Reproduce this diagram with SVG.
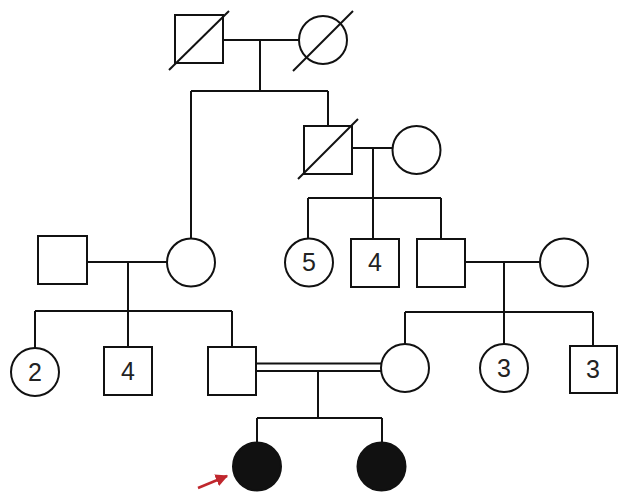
<svg xmlns="http://www.w3.org/2000/svg" width="629" height="502" viewBox="0 0 629 502">
<defs>
<style>
.s{fill:#fff;stroke:#111;stroke-width:2}
.a{fill:#111;stroke:#111;stroke-width:2}
.l{fill:none;stroke:#111;stroke-width:2}
.t{font-family:"Liberation Sans",Arial,sans-serif;font-size:25px;fill:#222;text-anchor:middle}
</style>
<marker id="ah" viewBox="0 0 10 10" refX="9" refY="5" markerWidth="5" markerHeight="5" orient="auto"><path d="M0,0L10,5L0,10z" fill="#c0272d"/></marker>
</defs>
<rect width="629" height="502" fill="#fff"/>
<g id="connectors" class="l">
<path d="M223,40H299M260,40V91M191,91H328M191,91V238M328,91V126"/>
<path d="M352,148H392M373,148V198M308,198H441M308,198V238M373,198V239M441,198V239"/>
<path d="M87,262H167M128,262V311M35,311H232M35,311V348M128,311V347M232,311V347"/>
<path d="M465,262H540M504,262V312M405,312H593M405,312V344M504,312V345M593,312V346"/>
<path d="M256,363.5H381M256,371H381M318,371V418M257,418H382M257,418V442M382,418V442"/>
<line x1="198" y1="488" x2="227" y2="476" stroke="#c0272d" stroke-width="2.5" marker-end="url(#ah)"/>
</g>
<g id="gf"><rect class="s" x="175" y="15" width="48" height="48"/><line class="l" x1="169" y1="70" x2="229" y2="11"/></g>
<g id="gm"><circle class="s" cx="323" cy="40" r="24"/><line class="l" x1="293" y1="71" x2="353" y2="11"/></g>
<g id="uncle"><rect class="s" x="304" y="126" width="48" height="48"/><line class="l" x1="298" y1="179" x2="358" y2="119"/></g>
<g id="auntwife"><circle class="s" cx="416.5" cy="150" r="24"/></g>
<g id="fatherfather"><rect class="s" x="38" y="236" width="49" height="48"/></g>
<g id="mothermother"><circle class="s" cx="191" cy="262.5" r="24"/></g>
<g id="c5"><circle class="s" cx="309" cy="262.5" r="24"/><text class="t" x="309" y="271">5</text></g>
<g id="s4a"><rect class="s" x="351" y="239" width="48" height="48"/><text class="t" x="375" y="271">4</text></g>
<g id="m3"><rect class="s" x="417" y="239" width="48" height="48"/></g>
<g id="w3"><circle class="s" cx="564" cy="262.5" r="24"/></g>
<g id="c2"><circle class="s" cx="35" cy="372" r="24"/><text class="t" x="35" y="381">2</text></g>
<g id="s4b"><rect class="s" x="104" y="347" width="48" height="48"/><text class="t" x="128" y="380">4</text></g>
<g id="father"><rect class="s" x="208" y="347" width="48" height="48"/></g>
<g id="mother"><circle class="s" cx="405" cy="368" r="24"/></g>
<g id="c3"><circle class="s" cx="504" cy="368" r="24"/><text class="t" x="504" y="377">3</text></g>
<g id="s3"><rect class="s" x="570" y="346" width="47" height="47"/><text class="t" x="593" y="378">3</text></g>
<g id="proband"><circle class="a" cx="257" cy="466.5" r="24"/></g>
<g id="sister"><circle class="a" cx="381.5" cy="466.5" r="24"/></g>
</svg>
